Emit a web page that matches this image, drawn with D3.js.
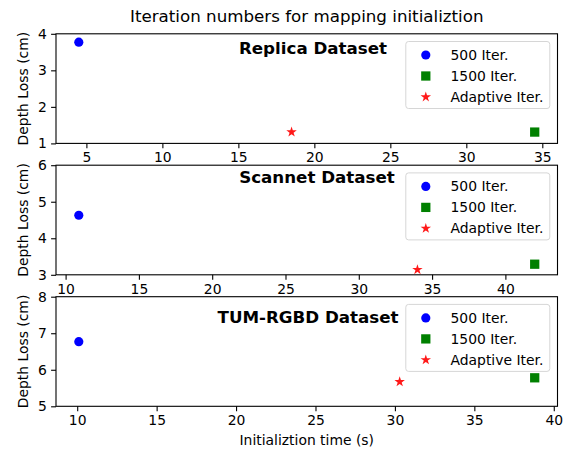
<!DOCTYPE html>
<html>
<head>
<meta charset="utf-8">
<script src="https://cdn.jsdelivr.net/npm/d3@7"></script>
<style>
  body { margin: 0; background: #fff; }
  text { font-family: "DejaVu Sans", sans-serif; fill: #000; }
</style>
</head>
<body>
<div id="chart"></div>
<script>
// data
const datasets = ["Replica Dataset", "Scannet Dataset", "TUM-RGBD Dataset"];
const seriesNames = ["500 Iter.", "1500 Iter.", "Adaptive Iter."];
const iter500Time = [4.5, 10.9, 10.1];
const iter500Loss = [3.77, 4.63, 6.77];
const iter1500Time = [34.5, 42.0, 38.8];
const iter1500Loss = [1.31, 3.29, 5.78];
const adaptiveTime = [18.5, 34.0, 30.3];
const adaptiveLoss = [1.31, 3.14, 5.67];
const yLimits = [[1, 4], [3, 6], [5, 8]];
const yTickValues = [[1, 2, 3, 4], [3, 4, 5, 6], [5, 6, 7, 8]];
const xTickValues = [[5, 10, 15, 20, 25, 30, 35], [10, 15, 20, 25, 30, 35, 40], [10, 15, 20, 25, 30, 35, 40]];

const title = "Iteration numbers for mapping initializtion";
const xLabel = "Initializtion time (s)";
const yLabel = "Depth Loss (cm)";

let width = 566, height = 451;
let margin = { left: 56, right: 8.5 };
let panelTops = [33.8, 165.2, 296.7], panelH = 109.6;
// where the bold dataset name sits in each panel
let namePos = [{ x: 313, dy: 20 }, { x: 317, dy: 18 }, { x: 308, dy: 26 }];

let colors = ["#0000ff", "#008000", "#ff0000"];
let symbols = [d3.symbolCircle, d3.symbolSquare, d3.symbolStar];
let symSizes = [66, 86, 34];

let svg = d3.select('#chart').append('svg')
  .attr('width', width)
  .attr('height', height);

let plotW = width - margin.left - margin.right;

svg.append("text")
  .attr("x", margin.left + plotW / 2)
  .attr("y", 22)
  .attr("text-anchor", "middle")
  .style("font-size", "16.7px")
  .text(title);

datasets.forEach(function (name, i) {
  let pts = [
    { s: 0, x: iter500Time[i], y: iter500Loss[i] },
    { s: 1, x: iter1500Time[i], y: iter1500Loss[i] },
    { s: 2, x: adaptiveTime[i], y: adaptiveLoss[i] }
  ];

  // matplotlib style 5% autoscale margin on x
  let ext = d3.extent(pts, d => d.x), pad = (ext[1] - ext[0]) * 0.05;
  let x = d3.scaleLinear().domain([ext[0] - pad, ext[1] + pad]).range([0, plotW]);
  let y = d3.scaleLinear().domain(yLimits[i]).range([panelH, 0]);

  let g = svg.append("g").attr("transform", "translate(" + margin.left + "," + panelTops[i] + ")");

  g.append("rect")
    .attr("width", plotW).attr("height", panelH)
    .style("fill", "#fff");

  let xAxis = g.append("g")
    .attr("transform", "translate(0," + panelH + ")")
    .call(d3.axisBottom(x).tickValues(xTickValues[i]).tickSize(4.9).tickPadding(4.2).tickFormat(d3.format("d")));
  let yAxis = g.append("g")
    .call(d3.axisLeft(y).tickValues(yTickValues[i]).tickSize(4.9).tickPadding(4.2).tickFormat(d3.format("d")));

  [xAxis, yAxis].forEach(function (ax) {
    ax.select(".domain").remove();
    ax.selectAll("line").style("stroke", "#000").style("stroke-width", 1.1);
    ax.selectAll("text").style("font-size", "13.9px").style("font-family", "DejaVu Sans").style("fill", "#000");
  });

  g.append("rect")
    .attr("width", plotW).attr("height", panelH)
    .style("fill", "none").style("stroke", "#000").style("stroke-width", 1.1);

  g.append("text")
    .attr("transform", "translate(-28," + (panelH / 2) + ") rotate(-90)")
    .attr("text-anchor", "middle")
    .style("font-size", "13.9px")
    .text(yLabel);

  g.selectAll(".pt")
    .data(pts)
    .enter()
    .append("path")
    .attr("class", "pt")
    .attr("transform", d => "translate(" + x(d.x) + "," + y(d.y) + ")")
    .attr("d", d => d3.symbol().type(symbols[d.s]).size(symSizes[d.s])())
    .style("fill", d => colors[d.s])
    .style("opacity", d => d.s == 2 ? 0.9 : 1);

  g.append("text")
    .attr("x", namePos[i].x - margin.left)
    .attr("y", namePos[i].dy)
    .attr("text-anchor", "middle")
    .style("font-size", "16.7px")
    .style("font-weight", "bold")
    .text(name);

  // legend, upper right
  let lw = 144, lh = 67;
  let leg = g.append("g").attr("transform", "translate(" + (plotW - 7.7 - lw) + ",7.7)");
  leg.append("rect")
    .attr("width", lw).attr("height", lh)
    .attr("rx", 2.8)
    .style("fill", "rgba(255,255,255,0.8)")
    .style("stroke", "#d6d6d6")
    .style("stroke-width", 1);

  let row = leg.selectAll(".row")
    .data(seriesNames)
    .enter()
    .append("g")
    .attr("transform", (d, k) => "translate(0," + (13.5 + k * 21) + ")");

  row.append("path")
    .attr("transform", "translate(20,0)")
    .attr("d", (d, k) => d3.symbol().type(symbols[k]).size(symSizes[k])())
    .style("fill", (d, k) => colors[k])
    .style("opacity", (d, k) => k == 2 ? 0.9 : 1);

  row.append("text")
    .attr("x", 44.7)
    .attr("dy", "0.35em")
    .style("font-size", "13.9px")
    .text(d => d);
});

svg.append("text")
  .attr("x", margin.left + plotW / 2)
  .attr("y", 445)
  .attr("text-anchor", "middle")
  .style("font-size", "13.9px")
  .text(xLabel);
</script>
</body>
</html>
